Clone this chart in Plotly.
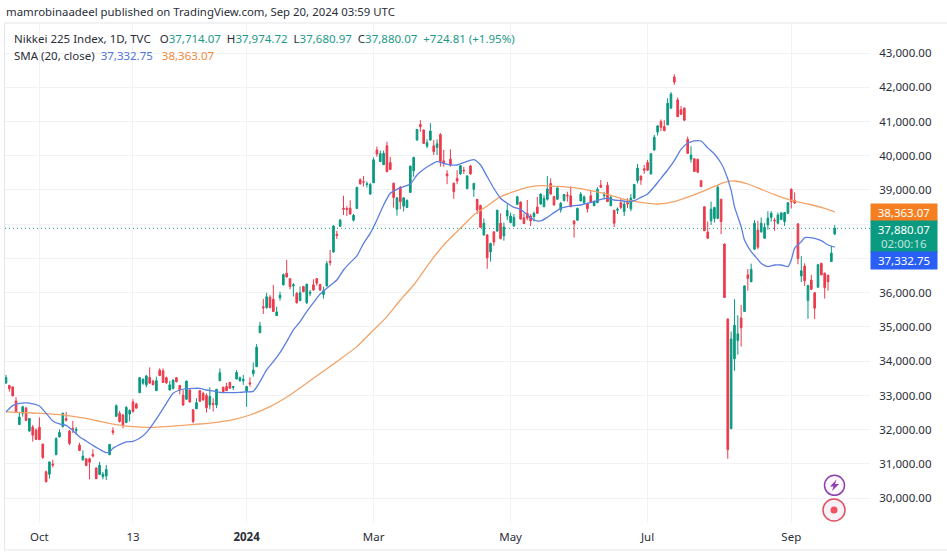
import plotly.graph_objects as go

W, H = 947, 556
ML, MR, MT, MB = 5, 77, 24, 33

# Daily Nikkei 225 candles, in candle order (index 0..248)
open_ = [33360,33290,33250,32840,32150,32480,32630,31960,32080,31990,32070,31580,30770,30700,31000,31270,31790,32090,32320,31960,
32040,31970,31550,31120,31150,31150,31280,30880,30690,30630,30650,31270,31970,32390,32480,32430,32210,32460,32810,32750,
33080,33360,33310,33530,33420,33140,33740,33720,33520,33160,33200,33520,33290,33010,32890,33160,32580,32610,33140,33060,
33000,32720,32770,32720,33430,33240,33260,33380,33230,33480,33430,33430,33110,33370,33640,33840,34830,35590,35570,35870,
35810,35330,35850,36230,36570,36410,36200,35980,35770,36180,35710,35980,36230,36410,36240,35950,36200,36920,37190,37710,
37940,38470,38460,38470,38120,38460,39300,39240,39160,38880,39210,40170,39830,39740,40290,39800,39200,38440,39080,38530,
38490,38930,39560,40460,40910,40750,40280,40460,40290,40240,40620,39850,39470,39900,39200,39340,39470,39580,39040,39700,
39020,38730,38550,37690,37690,37190,37780,37800,38030,37660,38240,38050,37950,38580,38650,38190,38320,38240,38220,38500,
38590,38510,38730,39190,38810,38730,38420,38690,38850,38830,38100,38120,38680,38630,38610,38830,38540,38630,39140,38830,
39140,38540,38410,38410,38630,38370,38630,38450,38760,39270,39410,39620,39800,39470,40170,40690,41000,40850,40900,41390,
42300,41630,41340,41390,40480,39900,39910,39900,39270,38510,37770,38100,38170,38170,38730,37420,35230,32030,34070,34600,
35260,35450,36520,36320,37270,37830,37780,37590,37980,38200,38120,38030,38140,38080,38320,39020,38700,38010,36490,36780,
35770,36370,36000,36160,36860,36570,36510,36910,37714.07]
high = [33600,33310,33260,32950,32500,32700,32670,32330,32140,32040,32360,31590,30810,31060,31120,31780,32010,32500,32520,31990,
32260,32080,31620,31400,31170,31190,31430,30900,31060,30770,30970,31580,32070,32740,32550,32460,32690,32600,32890,32790,
33530,33500,33600,33820,33450,33550,33790,33790,33550,33430,33470,33530,33310,33160,33430,33180,32600,32920,33160,33110,
33060,33240,32920,33190,33790,33260,33370,33400,33280,33740,33550,33600,33280,33530,33960,34500,35150,35820,36000,35930,
36230,35590,36030,36560,36960,36420,36280,36020,36180,36200,36260,36080,36390,36420,36260,36180,36930,37250,37960,37810,
38150,38830,38530,38700,38300,39100,39340,39410,39250,39210,39950,40270,40150,40150,40410,39970,39200,38790,39120,38790,
38730,39700,39970,40780,41040,40770,40480,40950,40460,40480,40660,40170,39580,40190,39210,39580,39730,39680,39430,39730,
39210,38730,38570,38170,37690,37460,37780,38420,38320,38050,38590,38340,38300,38830,38660,38320,38710,38300,38370,38800,
38900,38850,39410,39340,38830,39080,38650,38880,38950,39110,38100,38490,38940,38840,38630,38980,38690,39080,39290,38950,
39230,38830,38420,38490,38760,38650,38760,38880,39180,39760,39410,39730,39880,40070,40610,40900,41060,41040,41680,41860,
42380,41700,41450,41410,40560,40280,39920,39900,39290,38530,38080,38660,38510,39150,38730,37440,35250,34870,35810,35340,
35640,36210,36690,36850,38120,38100,38200,38030,38380,38380,38190,38340,38350,38350,38640,39050,38930,38030,37070,36860,
36230,36520,36020,36840,36870,36590,36530,37370,37974.72]
low = [33355,33110,32970,32500,32140,32380,32260,31940,31650,31700,31700,31150,30460,30570,30900,31260,31780,32070,32240,31550,
31900,31850,31380,31100,30940,30550,31190,30560,30680,30550,30530,31260,31850,32380,32210,32040,32190,32240,32500,32620,
33080,33310,33240,33350,33300,33130,33570,33370,33340,33140,33180,33380,33030,32700,32870,32790,32190,32600,32810,32850,
32500,32600,32530,32630,33420,33090,33130,33190,33160,33470,33400,33310,32670,33260,33550,33840,34830,35380,35530,35540,
35440,35330,35770,36210,36440,36100,35890,35680,35760,36010,35670,35900,36060,36210,36050,35830,36180,36790,37170,37570,
37930,38270,38240,38270,38080,38450,39160,39100,39070,38860,39210,39970,39820,39730,39510,39580,38480,38250,38440,38370,
38480,38920,39390,40440,40700,40340,40220,40440,40020,40020,39680,39680,39170,39680,38740,39170,39440,39470,39020,39440,
38800,38300,37890,37660,36700,36910,37370,37780,37560,37520,38120,38030,37930,38560,38140,38010,38120,37950,38080,38300,
38570,38500,38690,38870,38550,38710,38340,38670,38660,38500,37610,38100,38670,38590,38340,38630,38530,38620,39060,38730,
38650,38530,37920,38300,38440,38240,38470,38380,38740,39190,39150,39470,39560,39450,40140,40590,40720,40720,40900,41380,
42070,41140,41190,41010,40050,39800,39530,39490,39090,37800,37580,37980,38050,38160,37710,35850,31150,32020,33720,34190,
34430,35440,36060,36310,37250,37270,37750,37580,37840,38080,37810,38000,38120,37950,38300,38460,38590,36830,36310,36200,
35240,36080,35230,36150,36510,35830,36060,36900,37680.97]
close = [33520,33200,32990,32530,32370,32670,32270,32330,31840,31720,31710,31190,30480,31060,30970,31740,31920,32480,32280,31600,
32010,32010,31390,31230,30950,31050,31230,30570,30960,30700,30840,31570,31920,32700,32240,32140,32650,32560,32530,32630,
33520,33470,33570,33360,33310,33430,33580,33380,33370,33310,33450,33400,33160,32720,33420,32810,32240,32790,32830,32870,
32640,32970,32740,33180,33660,33110,33140,33210,33260,33670,33520,33470,33260,33340,33740,34410,35030,35560,35880,35570,
35450,35440,35930,36530,36460,36180,36230,35710,36000,36030,36250,36010,36080,36280,36080,36060,36850,36880,37950,37670,
38120,38440,38430,38300,38260,39070,39180,39230,39180,39160,39880,40050,40060,40070,39540,39600,38780,38770,38660,38770,
38690,39700,39950,40770,40850,40360,40380,40720,40120,40350,39830,39780,39410,39730,38950,39260,39710,39560,39410,39470,
39190,38420,37910,38030,37020,37440,37480,38410,37580,37920,38400,38240,38200,38800,38150,38020,38180,38100,38320,38320,
38880,38750,39030,38880,38560,39060,38610,38870,38830,38510,38010,38460,38880,38800,38450,38640,38670,39020,39080,38850,
38660,38790,38030,38440,38490,38590,38590,38760,39160,39640,39290,39580,39580,40060,40540,40870,40830,40730,41530,41800,
42150,41140,41210,41040,40070,40020,39540,39520,39100,37810,37590,38440,38490,39080,38080,35860,31420,34650,35050,34800,
34980,36200,36420,36680,38030,37330,38030,37910,38180,38320,38100,38270,38330,38340,38630,38660,38620,37000,36640,36350,
36210,36100,35550,36820,36520,36150,36320,37155,37880.07]

sma20_x = [0,2,4,6,8,10,12,14,16,18,20,22,24,26,28,30,31,32,34,36,38,40,42,44,46,48,50,52,54,56,58,60,62,64,66,68,70,72,74,76,78,80,82,84,86,88,90,92,94,96,99,101,103,105,107,109,111,113,115,117,119,121,123,125,127,129,131,133,135,137,140,142,144,146,148,150,152,154,156,158,160,162,164,166,168,170,172,174,176,178,180,182,184,186,188,190,192,194,196,198,200,202,204,206,208,210,212,214,215,217,218,220,221,223,225,226,228,230,232,234,235,236,238,239,242,244,246,248]
sma20 = [32518,32703,32771,32781,32752,32693,32479,32255,32167,32129,31973,31797,31671,31544,31428,31330,31350,31457,31564,31642,31661,31749,31915,32167,32460,32771,33063,33160,33199,33209,33209,33160,33131,33092,33082,33082,33092,33102,33121,33404,33744,33988,34250,34572,34912,35156,35447,35710,35963,36129,36372,36664,36878,37073,37443,37735,38124,38562,38903,39020,39098,39175,39438,39604,39730,39827,39779,39730,39730,39798,39886,39730,39389,39049,38757,38611,38494,38436,38270,38124,38095,38202,38338,38465,38513,38543,38562,38611,38660,38728,38757,38708,38689,38660,38689,38786,38883,39098,39341,39584,39857,40188,40363,40431,40431,40230,40050,39780,39584,38998,38513,37929,37540,37200,36976,36859,36761,36810,36810,36761,36956,37297,37491,37608,37589,37521,37394,37332.75]
sma200_x = [0,3,8,13,18,23,28,33,38,43,48,53,58,63,68,73,79,85,92,99,105,109,114,118,122,127,131,136,140,144,148,151,156,160,165,170,175,180,185,190,195,200,205,210,215,218,222,226,230,235,240,245,248]
sma200 = [32518,32507,32488,32460,32420,32343,32245,32148,32090,32070,32090,32128,32167,32216,32294,32430,32673,33014,33500,33988,34426,34815,35302,35788,36226,36908,37394,37881,38270,38533,38805,38920,39078,39127,39107,39068,38981,38874,38728,38640,38591,38660,38825,39020,39224,39263,39175,39020,38864,38698,38591,38465,38363.07]

y_ticks = list(range(30000, 43001, 1000))
x_ticks = [10, 38, 72, 110, 151, 192, 235]
x_labels = ["Oct", "13", "<b>2024</b>", "Mar", "May", "Jul", "Sep"]

RED, GREEN = "#ec3b4d", "#0a9981"
BLUE, ORANGE = "#5c7fe0", "#f2a468"
INK = "#2a2e39"
FONT = "Noto Sans"
FS = 11.5
PW, PH = W - ML - MR, H - MT - MB

def xp(px):
    return (px - ML) / PW

def yp(py):
    return 1 - (py - MT) / PH

fig = go.Figure()
fig.add_trace(go.Candlestick(
    x=list(range(len(close))), open=open_, high=high, low=low, close=close,
    increasing=dict(line=dict(color=GREEN, width=1), fillcolor=GREEN),
    decreasing=dict(line=dict(color=RED, width=1), fillcolor=RED),
    hoverinfo="skip", showlegend=False))
fig.add_trace(go.Scatter(x=sma200_x, y=sma200, mode="lines",
                         line=dict(color=ORANGE, width=1.3, shape="spline", smoothing=0.6),
                         hoverinfo="skip", showlegend=False))
fig.add_trace(go.Scatter(x=sma20_x, y=sma20, mode="lines",
                         line=dict(color=BLUE, width=1.3, shape="spline", smoothing=0.6),
                         hoverinfo="skip", showlegend=False))

shapes = [
    dict(type="line", xref="x domain", yref="y", x0=0, x1=1, y0=close[-1], y1=close[-1],
         line=dict(color=GREEN, width=1, dash="1px,3px")),
    dict(type="line", xref="paper", yref="paper", x0=xp(4.5), x1=xp(4.5), y0=yp(550), y1=yp(23),
         line=dict(color="#e3e5ea", width=1)),
    dict(type="line", xref="paper", yref="paper", x0=xp(4.5), x1=xp(947), y0=yp(23), y1=yp(23),
         line=dict(color="#e3e5ea", width=1)),
    dict(type="line", xref="paper", yref="paper", x0=xp(4.5), x1=xp(947), y0=yp(550), y1=yp(550),
         line=dict(color="#e3e5ea", width=1)),
    dict(type="circle", xref="paper", yref="paper", x0=xp(824.5), x1=xp(844.5), y0=yp(495.3), y1=yp(475.3),
         line=dict(color="#8e3fb0", width=1.5), fillcolor="#fbf7fd"),
    dict(type="path", xref="paper", yref="paper",
         path="M {} {} L {} {} L {} {} L {} {} L {} {} L {} {} Z".format(
             xp(836.5), yp(479.5), xp(830), yp(486.5), xp(833.5), yp(486.5),
             xp(832), yp(491), xp(839), yp(484), xp(835), yp(484)),
         line=dict(width=0), fillcolor="#8e3fb0"),
    dict(type="circle", xref="paper", yref="paper", x0=xp(823), x1=xp(845), y0=yp(521), y1=yp(499),
         line=dict(color="#e2505f", width=1.5), fillcolor="#f6f2f8"),
    dict(type="circle", xref="paper", yref="paper", x0=xp(830.5), x1=xp(837.5), y0=yp(513.5), y1=yp(506.5),
         line=dict(width=0), fillcolor="#f2515f"),
]

def note(px, py, text, size=FS, color=INK, **kw):
    base = dict(xref="paper", yref="paper", x=xp(px), y=yp(py), text=text, showarrow=False,
                xanchor="left", yanchor="middle", font=dict(family=FONT, size=size, color=color),
                align="left", borderpad=0)
    base.update(kw)
    return base

def c(col, t):
    return '<span style="color:{}">{}</span>'.format(col, t)

TG = "#1c9a85"
annotations = [
    note(5, 11, "mamrobinaadeel published on TradingView.com, Sep 20, 2024 03:59 UTC", size=11.4),
    note(13, 38.5, "Nikkei 225 Index, 1D, TVC   O" + c(TG, "37,714.07") + "  H" + c(TG, "37,974.72") + "  L"
         + c(TG, "37,680.97") + "  C" + c(TG, "37,880.07") + "  " + c(TG, "+724.81 (+1.95%)")),
    note(13, 55.5, "SMA (20, close)  " + c("#4f74dc", "37,332.75") + "   " + c("#ef8a3c", "38,363.07")),
    note(870, 212.5, "38,363.07", color="white", bgcolor="#f57f20", width=66, height=17, align="center"),
    note(870, 236.5, '37,880.07<br><span style="color:#bfe6de">02:00:16</span>', color="white", bgcolor="#0a9981",
         width=66, height=31, align="center"),
    note(870, 260.5, "37,332.75", color="white", bgcolor="#2a5ff5", width=66, height=17, align="center"),
]

fig.update_layout(
    width=W, height=H, autosize=False, margin=dict(l=ML, r=MR, t=MT, b=MB),
    paper_bgcolor="white", plot_bgcolor="white", showlegend=False,
    font=dict(family=FONT, size=FS, color=INK),
    shapes=shapes, annotations=annotations,
    xaxis=dict(range=[-0.3, 258.56], tickvals=x_ticks, ticktext=x_labels, showgrid=True, gridcolor="#f0f2f6",
               gridwidth=1, zeroline=False, showline=False, ticks="outside", ticklen=3, tickcolor="white",
               rangeslider=dict(visible=False), tickfont=dict(family=FONT, size=FS, color=INK)),
    yaxis=dict(side="right", range=[29276, 43847], tickvals=y_ticks, tickformat=",.2f", showgrid=True,
               gridcolor="#f0f2f6", gridwidth=1, zeroline=False, showline=False, ticks="outside", ticklen=6,
               tickcolor="white", tickfont=dict(family=FONT, size=FS, color=INK)),
)
fig.write_html("out.html", config=dict(displayModeBar=False),
               post_script="document.body.style.margin='0';document.body.style.overflow='hidden';")
